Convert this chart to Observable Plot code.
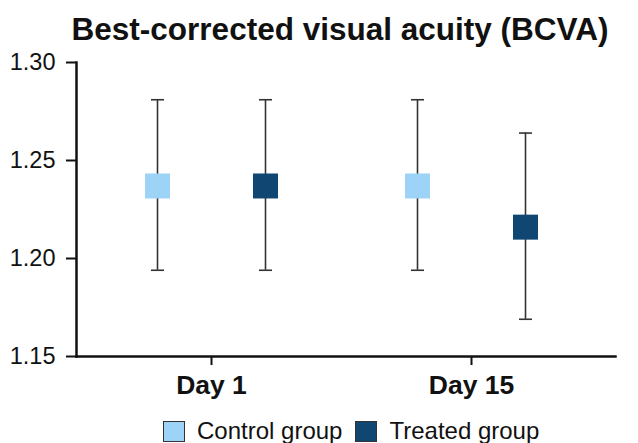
<!DOCTYPE html>
<html>
<head>
<meta charset="utf-8">
<script src="https://cdn.jsdelivr.net/npm/d3@7"></script>
<script src="https://cdn.jsdelivr.net/npm/@observablehq/plot@0.6"></script>
<style>
  body { margin: 0; background: #fff; font-family: "Liberation Sans", Arial, sans-serif; }
  #wrap { width: 638px; height: 443px; position: relative; overflow: hidden; }
  #title { box-sizing: border-box; width: 638px; height: 50px; padding-left: 42px; padding-top: 8px; text-align: center;
           font-weight: bold; font-size: 31.5px; line-height: 42px; color: #111; white-space: nowrap; }
  #legend { display: flex; align-items: center; padding-left: 163px; margin-top: 14px; height: 22px;
            font-size: 24px; color: #111; }
  .sw { width: 22px; height: 21px; border: 1px solid #333; box-sizing: border-box; }
  .lab { margin-left: 12px; margin-right: 13px; }
</style>
</head>
<body>
<div id="wrap">
  <div id="title">Best-corrected visual acuity (BCVA)</div>
  <div id="chart"></div>
  <div id="legend"></div>
</div>
<script>
const days = ["Day 1", "Day 15"];
const groups = ["Control group", "Treated group"];
const colors = ["#9DD3F7", "#0F4672"];
const meanControl = [1.237, 1.237];
const lowControl = [1.194, 1.194];
const highControl = [1.281, 1.281];
const meanTreated = [1.237, 1.216];
const lowTreated = [1.194, 1.169];
const highTreated = [1.281, 1.264];
const yTicks = [1.15, 1.20, 1.25, 1.30];

const control = days.map((d, i) => ({day: d, group: groups[0], mean: meanControl[i], low: lowControl[i], high: highControl[i]}));
const treated = days.map((d, i) => ({day: d, group: groups[1], mean: meanTreated[i], low: lowTreated[i], high: highTreated[i]}));

const cap = {
  draw(context, size) {
    const h = Math.sqrt(size / Math.PI);
    context.moveTo(-h, 0);
    context.lineTo(h, 0);
  }
};

const offset = 54;
function groupMarks(data, dx) {
  return [
    Plot.ruleX(data, {x: "day", y1: "low", y2: "high", dx, stroke: "#333", strokeWidth: 1.6}),
    Plot.dot(data, {x: "day", y: "high", dx, symbol: cap, r: 6.5, stroke: "#333", strokeWidth: 1.6, fill: "none"}),
    Plot.dot(data, {x: "day", y: "low", dx, symbol: cap, r: 6.5, stroke: "#333", strokeWidth: 1.6, fill: "none"}),
    Plot.dot(data, {x: "day", y: "mean", dx, symbol: "square", r: 14.1, fill: "group", stroke: "none"})
  ];
}

const chart = Plot.plot({
  width: 638,
  height: 356,
  marginLeft: 76,
  marginRight: 23,
  marginTop: 12,
  marginBottom: 50,
  style: {fontFamily: "Liberation Sans, Arial, sans-serif", fontSize: "23.5px", color: "#111", background: "#fff"},
  x: {type: "point", domain: days, range: [76, 606], padding: 0.519, label: null},
  y: {domain: [1.15, 1.30], ticks: yTicks, tickFormat: ".2f", label: null},
  color: {domain: groups, range: colors},
  marks: [
    Plot.axisY({ticks: yTicks, tickFormat: ".2f", tickSize: 10, tickPadding: 11, stroke: "#111", strokeWidth: 2, label: null}),
    Plot.axisX({tickSize: 9, tickPadding: 10, stroke: "#111", strokeWidth: 2, label: null}),
    Plot.frame({anchor: "left", stroke: "#111", strokeWidth: 2.5}),
    Plot.frame({anchor: "bottom", stroke: "#111", strokeWidth: 2.5}),
    ...groupMarks(control, -offset),
    ...groupMarks(treated, offset)
  ]
});
d3.select(chart).selectAll("text")
  .filter(function() { return days.includes(this.textContent); })
  .style("font-size", "26.5px")
  .style("font-weight", "bold");
document.getElementById("chart").appendChild(chart);

const legend = document.getElementById("legend");
groups.forEach((g, i) => {
  const sw = document.createElement("div");
  sw.className = "sw";
  sw.style.background = colors[i];
  const lab = document.createElement("span");
  lab.className = "lab";
  lab.textContent = g;
  legend.appendChild(sw);
  legend.appendChild(lab);
});
</script>
</body>
</html>
